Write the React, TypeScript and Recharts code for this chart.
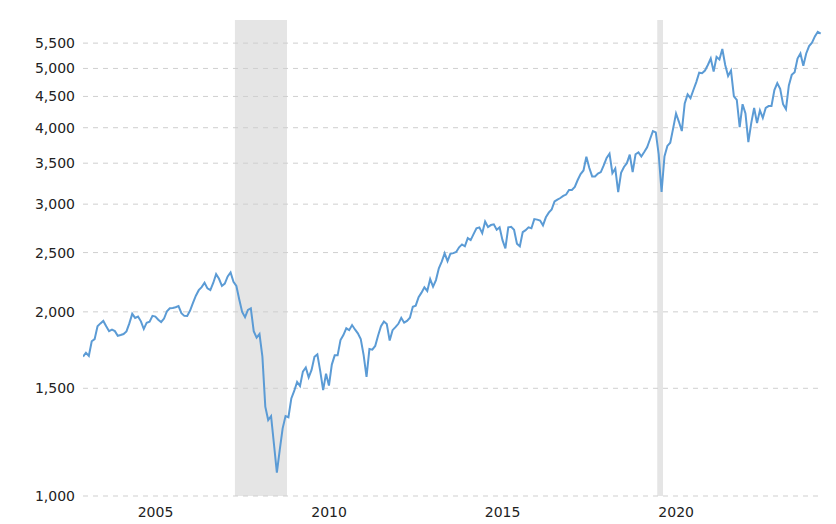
import { Line, LineChart, ReferenceArea, ReferenceLine, XAxis, YAxis } from "recharts";

// monthly, inflation adjusted, starting Jul 2003
const startYear = 2003;
const startMonth = 7;

const values = [
  1690, 1715, 1695, 1790, 1805, 1895, 1915, 1933, 1895, 1860, 1870, 1860,
  1828, 1833, 1840, 1858, 1915, 1985, 1955, 1965, 1930, 1875, 1920, 1928,
  1970, 1965, 1942, 1925, 1950, 2005, 2027, 2030, 2035, 2044, 1990, 1970,
  1969, 2010, 2068, 2125, 2170, 2195, 2232, 2185, 2171, 2230, 2305, 2265,
  2205, 2225, 2285, 2320, 2240, 2205, 2095, 2000, 1960, 2015, 2027, 1860,
  1815, 1840, 1690, 1400, 1331, 1351, 1215, 1092, 1190, 1290, 1351, 1345,
  1444, 1485, 1536, 1513, 1597, 1622, 1563, 1607, 1689, 1704, 1600, 1490,
  1585, 1515, 1640, 1698, 1698, 1799, 1833, 1880, 1867, 1903, 1872, 1845,
  1805, 1700, 1566, 1739, 1735, 1759, 1830, 1895, 1928, 1910, 1795, 1867,
  1888, 1912, 1956, 1920, 1933, 1956, 2039, 2047, 2113, 2150, 2194, 2164,
  2263, 2199, 2254, 2356, 2416, 2493, 2420, 2490, 2495, 2505, 2550, 2578,
  2560, 2640, 2620, 2680, 2740, 2749, 2690, 2810, 2753, 2773, 2780, 2725,
  2749, 2620, 2540, 2749, 2755, 2725, 2585, 2560, 2700, 2720, 2749, 2740,
  2836, 2830, 2820, 2770, 2855, 2905, 2940, 3030, 3052, 3070, 3095, 3110,
  3165, 3165, 3200, 3285, 3360, 3405, 3586, 3440, 3330, 3330, 3365, 3385,
  3470, 3570, 3627, 3370, 3430, 3140, 3375, 3450, 3500, 3615, 3385, 3620,
  3645, 3590, 3650, 3715, 3830, 3950, 3930, 3620, 3140, 3590, 3735, 3780,
  3990, 4220, 4090, 3950, 4384, 4535, 4470, 4610, 4750, 4920, 4910, 4960,
  5065, 5190, 4940, 5220, 5170, 5380, 5065, 4860, 4960, 4500, 4440, 4010,
  4370, 4220, 3790, 4070, 4310, 4070, 4270, 4150, 4310, 4340, 4340, 4610,
  4730, 4630, 4370, 4290, 4690, 4880, 4930, 5190, 5290, 5050, 5290, 5440,
  5510, 5640, 5740, 5700,
];

const xTicks = [2005, 2010, 2015, 2020];
const yTicks = [1000, 1500, 2000, 2500, 3000, 3500, 4000, 4500, 5000, 5500];

// recession periods as [start, end] in fractional years
const recessions = [
  [2007 + 11 / 12, 2009 + 5 / 12],
  [2020 + 1 / 12, 2020 + 3 / 12],
];

const data = values.map((v, i) => {
  const m = startMonth - 1 + i;
  const year = startYear + Math.floor(m / 12);
  const month = (m % 12) + 1;
  return { t: year + (month - 0.5) / 12, value: v };
});

const FONT = "'DejaVu Sans', Verdana, sans-serif";

function YearTick(props: any) {
  const { x, y, payload } = props;
  return (
    <text x={x + 4} y={y} dy="0.71em" textAnchor="start" fill="#222" fontSize={14} fontFamily={FONT}>
      {payload.value}
    </text>
  );
}

export default function App() {
  return (
    <div style={{ position: "absolute", left: 0, top: 0, background: "#fff" }}>
      <LineChart width={836} height={524} data={data} margin={{ top: 20, right: 14, left: 0, bottom: 0 }}>
        {recessions.map(([a, b], i) => (
          <ReferenceArea key={i} x1={a} x2={b} fill="#e5e5e5" fillOpacity={1} stroke="none" ifOverflow="hidden" />
        ))}
        {yTicks.map((v) => (
          <ReferenceLine key={v} y={v} stroke="#cfcfcf" strokeDasharray="5 5" />
        ))}
        <XAxis
          dataKey="t"
          type="number"
          domain={[2003.54, 2024.83]}
          ticks={xTicks}
          allowDataOverflow
          axisLine={false}
          tickLine={false}
          tickMargin={5}
          height={28}
          tick={<YearTick />}
        />
        <YAxis
          type="number"
          scale="log"
          domain={[1000, 6000]}
          ticks={yTicks}
          allowDataOverflow
          axisLine={false}
          tickLine={false}
          width={83}
          tick={{ fill: "#222", fontSize: 14, fontFamily: FONT }}
          tickFormatter={(v) => Number(v).toLocaleString("en-US")}
        />
        <Line
          dataKey="value"
          type="linear"
          stroke="#5b9bd5"
          strokeWidth={2}
          dot={false}
          isAnimationActive={false}
        />
      </LineChart>
    </div>
  );
}
